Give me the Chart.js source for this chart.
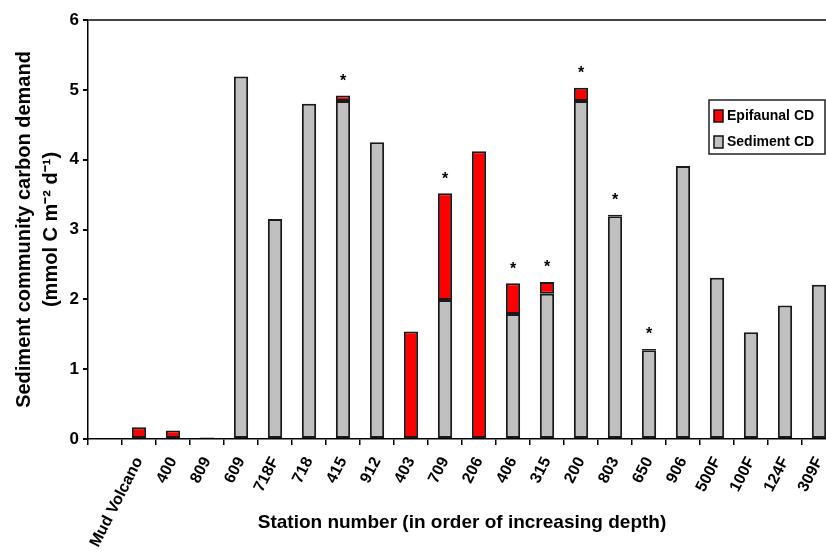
<!DOCTYPE html>
<html>
<head>
    <title>Sediment community carbon demand</title>
    <script src="https://cdn.jsdelivr.net/npm/chart.js@4"></script>
    <style>
        body { margin: 0; overflow: hidden; background: #fff; }
        canvas { display: block; }
    </style>
</head>
<body>
    <canvas id="chart" width="836" height="558"></canvas>
    <script>
        // stations in order of increasing depth (first slot is empty in the figure)
        const stations = ["", "Mud Volcano", "400", "809", "609", "718F", "718", "415", "912", "403",
            "709", "206", "406", "315", "200", "803", "650", "906", "500F", "100F", "124F", "309F"];
        const sedimentCD = [null, null, null, 0.02, 5.19, 3.15, 4.80, 4.84, 4.25, null,
            1.99, null, 1.79, 2.08, 4.84, 3.19, 1.27, 3.91, 2.31, 1.53, 1.91, 2.21];
        const epifaunalCD = [null, 0.17, 0.12, null, null, null, null, 0.08, null, 1.54,
            1.53, 4.12, 0.44, 0.17, 0.19, 0.02, 0.02, null, null, null, null, null];
        // stations marked with an asterisk
        const starred = ["415", "709", "200", "406", "315", "803", "650"];
        const yTicks = [0, 1, 2, 3, 4, 5, 6];

        const FONT = "'Liberation Sans', Arial, sans-serif";

        const starPlugin = {
            id: "stars",
            afterDatasetsDraw(chart) {
                const ctx = chart.ctx;
                const x = chart.scales.x, y = chart.scales.y;
                ctx.save();
                ctx.fillStyle = "#000";
                ctx.font = "bold 16px " + FONT;
                ctx.textAlign = "center";
                ctx.textBaseline = "middle";
                starred.forEach(s => {
                    const i = stations.indexOf(s);
                    const total = (sedimentCD[i] || 0) + (epifaunalCD[i] || 0);
                    ctx.fillText("*", x.getPixelForValue(i), y.getPixelForValue(total) - 14);
                });
                ctx.restore();
            }
        };

        const legendPlugin = {
            id: "boxLegend",
            afterDraw(chart) {
                const ctx = chart.ctx;
                const left = 709, top = 100, w = 116, h = 54;
                ctx.save();
                ctx.fillStyle = "#fff";
                ctx.fillRect(left, top, w, h);
                ctx.strokeStyle = "#222";
                ctx.lineWidth = 1.5;
                ctx.strokeRect(left, top, w, h);
                const items = [["Epifaunal CD", "#ff0000"], ["Sediment CD", "#c0c0c0"]];
                ctx.font = "bold 14px " + FONT;
                ctx.textBaseline = "middle";
                items.forEach((it, k) => {
                    const cy = top + 16 + k * 26;
                    ctx.fillStyle = it[1];
                    ctx.fillRect(left + 5, cy - 6, 9, 12);
                    ctx.strokeStyle = "#111";
                    ctx.lineWidth = 1.5;
                    ctx.strokeRect(left + 5, cy - 6, 9, 12);
                    ctx.fillStyle = "#000";
                    ctx.fillText(it[0], left + 18, cy);
                });
                ctx.restore();
            }
        };

        new Chart(document.getElementById("chart"), {
            type: "bar",
            data: {
                labels: stations,
                datasets: [
                    {
                        label: "Sediment CD",
                        data: sedimentCD,
                        backgroundColor: "#c0c0c0",
                        borderColor: "#1a1a1a",
                        borderWidth: 2,
                        borderSkipped: false
                    },
                    {
                        label: "Epifaunal CD",
                        data: epifaunalCD,
                        backgroundColor: "#ff0000",
                        borderColor: "#1a1a1a",
                        borderWidth: 2,
                        borderSkipped: false
                    }
                ]
            },
            options: {
                responsive: false,
                animation: false,
                devicePixelRatio: 1,
                layout: { padding: { top: 20, left: 0, right: 0, bottom: 0 } },
                datasets: { bar: { categoryPercentage: 1, barPercentage: 0.42 } },
                plugins: {
                    legend: { display: false },
                    tooltip: { enabled: false }
                },
                scales: {
                    x: {
                        stacked: true,
                        afterFit: s => { s.height = 119; s.paddingLeft = 0; s.paddingRight = 0; },
                        grid: {
                            offset: true,
                            drawOnChartArea: false,
                            tickColor: "#000",
                            tickLength: 6,
                            lineWidth: 1.5
                        },
                        border: { color: "#000", width: 1.5 },
                        ticks: {
                            color: "#000",
                            font: { family: FONT, size: 16, weight: "bold" },
                            minRotation: 63,
                            maxRotation: 63,
                            autoSkip: false,
                            padding: 9
                        },
                        title: {
                            display: true,
                            text: "Station number (in order of increasing depth)",
                            color: "#000",
                            font: { family: FONT, size: 19, weight: "bold" },
                            padding: { top: 0, bottom: 24 }
                        }
                    },
                    y: {
                        stacked: true,
                        min: 0,
                        max: 6,
                        afterFit: s => { s.width = 88; },
                        afterBuildTicks: s => { s.ticks = yTicks.map(v => ({ value: v })); },
                        grid: {
                            color: c => c.tick && c.tick.value === 6 ? "#444" : "rgba(0,0,0,0)",
                            lineWidth: 2,
                            tickColor: "#000",
                            tickLength: 5
                        },
                        border: { color: "#000", width: 1.5 },
                        ticks: {
                            color: "#000",
                            font: { family: FONT, size: 17, weight: "bold" },
                            padding: 4
                        },
                        title: {
                            display: true,
                            text: ["Sediment community carbon demand", "(mmol C m\u207B\u00B2 d\u207B\u00B9)"],
                            color: "#000",
                            font: { family: FONT, size: 20, weight: "bold", lineHeight: 1.35 },
                            padding: { top: 11, bottom: 0 }
                        }
                    }
                }
            },
            plugins: [starPlugin, legendPlugin]
        });
    </script>
</body>
</html>
